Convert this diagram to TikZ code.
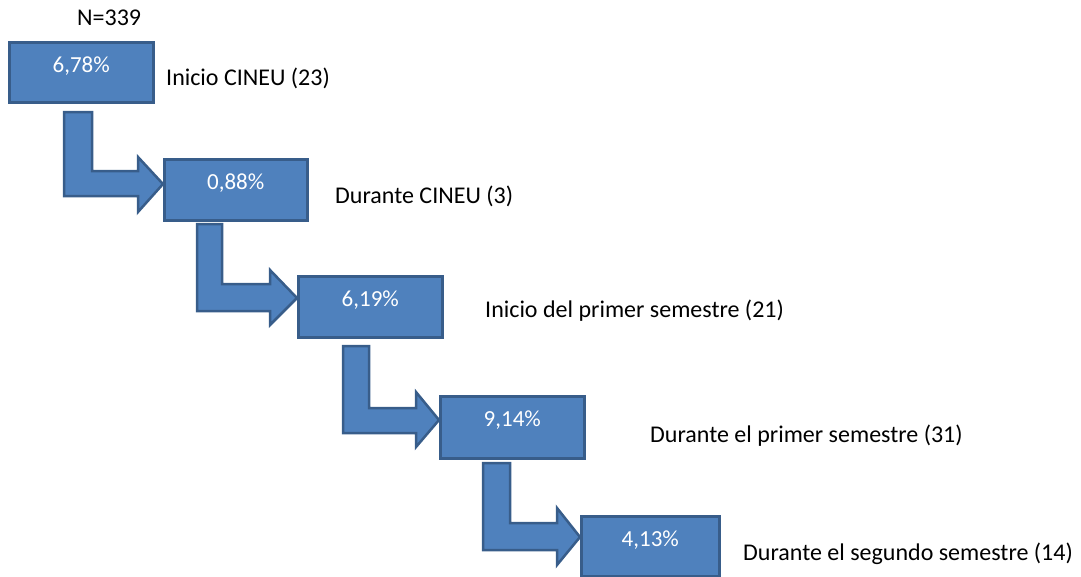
\documentclass[tikz,border=0pt]{standalone}
\usepackage{fontspec}
\setmainfont{Carlito}
\definecolor{boxfill}{HTML}{4F81BD}
\definecolor{boxline}{HTML}{385D8A}
\begin{document}
\begin{tikzpicture}[x=1pt,y=-1pt,
  stepbox/.style={draw=boxline,fill=boxfill,line width=2.5pt,inner sep=0pt,anchor=north west},
  bentarrow/.style={draw=boxline,fill=boxfill,line width=2.5pt,line join=miter},
  pct/.style={text=white,font=\fontsize{23}{26}\selectfont,anchor=base,inner sep=0pt},
  lbl/.style={text=black,font=\fontsize{24}{28}\selectfont,anchor=base west,inner sep=0pt}]
\useasboundingbox (0,0) rectangle (1081,576);
% bent arrows
\draw[bentarrow] (64,112) -- (92,112) -- (92,171) -- (138,171) -- (138,157) -- (163,184) -- (138,212) -- (138,196) -- (64,196) -- cycle;
\draw[bentarrow] (197,224) -- (222,224) -- (222,284) -- (270,284) -- (270,270) -- (297,298) -- (270,325) -- (270,311) -- (197,311) -- cycle;
\draw[bentarrow] (343,346) -- (369,346) -- (369,408) -- (416,408) -- (416,392) -- (439,420) -- (416,447) -- (416,433) -- (343,433) -- cycle;
\draw[bentarrow] (483,463) -- (510,463) -- (510,523) -- (557,523) -- (557,508) -- (580,537) -- (557,565) -- (557,550) -- (483,550) -- cycle;
% boxes
\node[stepbox,minimum width=144pt,minimum height=60pt] (b1) at (8,41) {};
\node[stepbox,minimum width=143pt,minimum height=61pt] (b2) at (163,158) {};
\node[stepbox,minimum width=144pt,minimum height=61pt] (b3) at (297,275) {};
\node[stepbox,minimum width=144pt,minimum height=62pt] (b4) at (439,395) {};
\node[stepbox,minimum width=138pt,minimum height=60pt] (b5) at (580,515) {};
% percentages
\node[pct,yshift=-31pt] (p1) at (b1.north) {6,78\%};
\node[pct,yshift=-31pt] (p2) at (b2.north) {0,88\%};
\node[pct,yshift=-31pt] (p3) at (b3.north) {6,19\%};
\node[pct,yshift=-31pt] (p4) at (b4.north) {9,14\%};
\node[pct,yshift=-31pt] (p5) at (b5.north) {4,13\%};
% labels
\node[lbl] (n) at (77,25) {N=339};
\node[lbl] (l1) at (166,85) {Inicio CINEU (23)};
\node[lbl] (l2) at (335,203) {Durante CINEU (3)};
\node[lbl] (l3) at (485,317) {Inicio del primer semestre (21)};
\node[lbl] (l4) at (650,442) {Durante el primer semestre (31)};
\node[lbl] (l5) at (743,560) {Durante el segundo semestre (14)};
\end{tikzpicture}
\end{document}
